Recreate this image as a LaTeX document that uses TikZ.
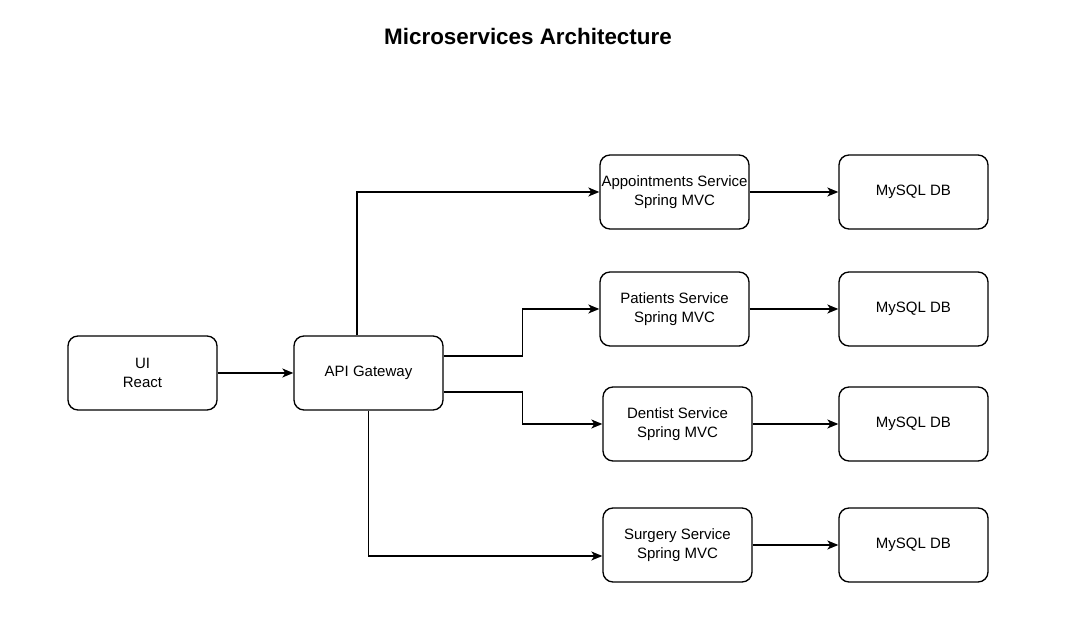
\documentclass[tikz,border=0pt]{standalone}
\usepackage{fontspec}
\setmainfont{Liberation Sans}
\usetikzlibrary{arrows.meta,calc}

\tikzset{every picture/.style={line width=1pt}}

\begin{document}
\begin{tikzpicture}[x=0.75pt,y=0.75pt,yscale=-1,xscale=1,
	box/.style={draw,rounded corners=7.5pt,minimum width=111.75pt,minimum height=55.5pt,inner sep=1pt,align=center,font=\fontsize{11.25pt}{14.25pt}\selectfont},
	link/.style={-{Stealth[length=8.25pt,width=6.75pt,inset=2.2pt]},line width=1pt}]
	\useasboundingbox (0,0) rectangle (1065,630);

	% Text Node
	\node[font=\fontsize{16.8pt}{20pt}\selectfont\bfseries] (title) at (528,37) {Microservices Architecture};

	%Shape: Rectangle
	\node[box] (ui) at (142.5,373) {UI\\React};
	\node[box] (api) at (368.5,373) {API Gateway};
	\node[box] (appt) at (674.5,192) {Appointments Service\\Spring MVC};
	\node[box] (pat) at (674.5,309) {Patients Service\\Spring MVC};
	\node[box] (den) at (677.5,424) {Dentist Service\\Spring MVC};
	\node[box] (sur) at (677.5,545) {Surgery Service\\Spring MVC};
	\node[box] (db1) at (913.5,192) {MySQL DB};
	\node[box] (db2) at (913.5,309) {MySQL DB};
	\node[box] (db3) at (913.5,424) {MySQL DB};
	\node[box] (db4) at (913.5,545) {MySQL DB};

	%Straight Lines
	\draw[link] (ui) -- (api);
	\draw[link] ($(api.north)+(-11.5,0)$) |- (appt.west);
	\draw[link] ($(api.east)+(0,-17)$) -- ++(79,0) |- (pat.west);
	\draw[link] ($(api.east)+(0,19)$) -- ++(79,0) |- (den.west);
	\draw[link] (api.south) |- ($(sur.west)+(0,11)$);
	\draw[link] (appt) -- (db1);
	\draw[link] (pat) -- (db2);
	\draw[link] (den) -- (db3);
	\draw[link] (sur) -- (db4);

\end{tikzpicture}
\end{document}
